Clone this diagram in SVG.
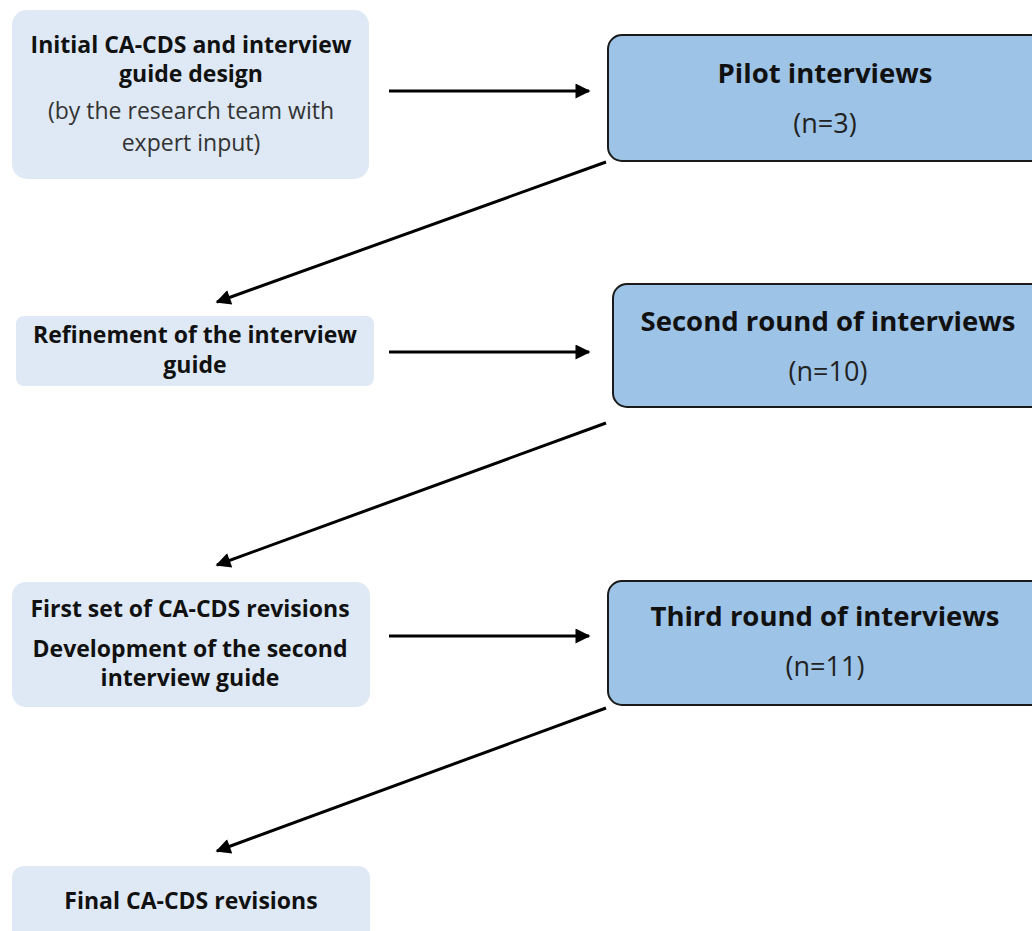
<svg xmlns="http://www.w3.org/2000/svg" width="1032" height="931" viewBox="0 0 1032 931">
<style>
.light{fill:#dee9f5;stroke:none}
.dark{fill:#9dc3e6;stroke:#1a1a1a;stroke-width:2}
text{font-family:"Open Sans","DejaVu Sans",sans-serif;text-anchor:middle;fill:#111}
.b{font-weight:bold;font-size:23px}
.bl{font-weight:bold;font-size:27.5px}
.n{font-weight:normal;font-size:23px;fill:#333}
.nl{font-weight:normal;font-size:27px;fill:#222}
.conn line{stroke:#000;stroke-width:3;marker-end:url(#ah)}
</style>
<defs>
<marker id="ah" viewBox="0 0 10 10" refX="9" refY="5" markerWidth="6" markerHeight="5" orient="auto" markerUnits="strokeWidth">
<path d="M0,0 L10,5 L0,10 z" fill="#000"/>
</marker>
</defs>
<rect width="1032" height="931" fill="#fff"/>
<g id="n1">
<rect class="light" x="12" y="10" width="357" height="169" rx="15"/>
<text class="b" x="191" y="53">Initial CA-CDS and interview</text>
<text class="b" x="191" y="82">guide design</text>
<text class="n" x="191" y="119">(by the research team with</text>
<text class="n" x="191" y="151">expert input)</text>
</g>
<g id="n2">
<rect class="dark" x="608" y="35" width="440" height="126" rx="14"/>
<text class="bl" x="825" y="83">Pilot interviews</text>
<text class="nl" x="825" y="133">(n=3)</text>
</g>
<g id="n3">
<rect class="light" x="16" y="316" width="358" height="70" rx="8"/>
<text class="b" x="195" y="343">Refinement of the interview</text>
<text class="b" x="195" y="373">guide</text>
</g>
<g id="n4">
<rect class="dark" x="613" y="284" width="435" height="123" rx="14"/>
<text class="bl" x="828" y="331">Second round of interviews</text>
<text class="nl" x="828" y="381">(n=10)</text>
</g>
<g id="n5">
<rect class="light" x="12" y="582" width="358" height="125" rx="14"/>
<text class="b" x="190" y="617">First set of CA-CDS revisions</text>
<text class="b" x="190" y="657">Development of the second</text>
<text class="b" x="190" y="686">interview guide</text>
</g>
<g id="n6">
<rect class="dark" x="608" y="581" width="440" height="124" rx="14"/>
<text class="bl" x="825" y="626">Third round of interviews</text>
<text class="nl" x="825" y="676">(n=11)</text>
</g>
<g id="n7">
<rect class="light" x="12" y="866" width="358" height="80" rx="12"/>
<text class="b" x="191" y="909">Final CA-CDS revisions</text>
</g>
<g id="connectors" class="conn">
<line x1="389" y1="91" x2="589" y2="91"/>
<line x1="606" y1="162" x2="217" y2="302"/>
<line x1="389" y1="352" x2="589" y2="352"/>
<line x1="606" y1="423" x2="217" y2="565"/>
<line x1="389" y1="636" x2="589" y2="636"/>
<line x1="606" y1="708" x2="217" y2="851"/>
</g>
</svg>
